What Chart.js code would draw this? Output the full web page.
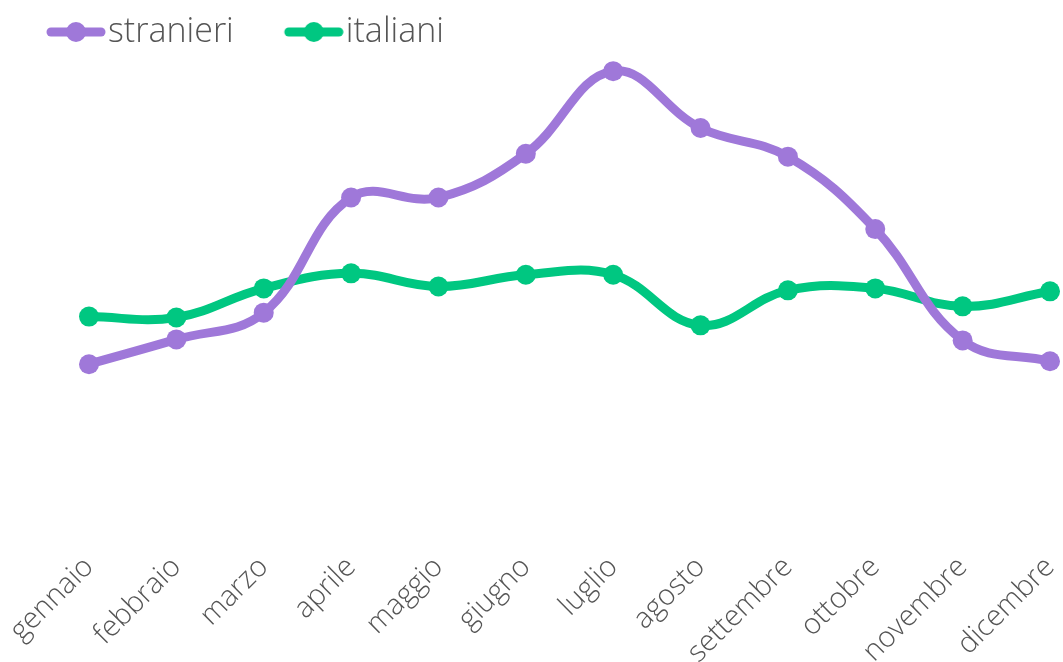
<!DOCTYPE html>
<html>
<head>
<meta charset="utf-8">
<script src="https://cdn.jsdelivr.net/npm/chart.js@4"></script>
<style>
  html, body { margin: 0; padding: 0; background: #fff; }
  #wrap { width: 1063px; height: 662px; }
</style>
</head>
<body>
<div id="wrap"><canvas id="myChart"></canvas></div>
<script>
const months = ['gennaio', 'febbraio', 'marzo', 'aprile', 'maggio', 'giugno', 'luglio', 'agosto', 'settembre', 'ottobre', 'novembre', 'dicembre'];
const stranieri = [37.2, 42.3, 47.8, 71.5, 71.5, 80.5, 97.5, 85.8, 79.9, 65.0, 42.1, 37.8];
const italiani = [47.0, 46.8, 52.8, 55.9, 53.2, 55.6, 55.6, 45.2, 52.4, 52.8, 49.1, 52.2];

const purple = '#9f78d9';
const green = '#00c781';

// legend marker: thick line with a dot, drawn in the right 60px of the image
function legendMark(color) {
    const c = document.createElement('canvas');
    c.width = 110;
    c.height = 24;
    const ctx = c.getContext('2d');
    ctx.strokeStyle = color;
    ctx.lineWidth = 9;
    ctx.lineCap = 'round';
    ctx.beginPath();
    ctx.moveTo(55, 12);
    ctx.lineTo(105, 12);
    ctx.stroke();
    ctx.fillStyle = color;
    ctx.beginPath();
    ctx.arc(80, 12, 10, 0, Math.PI * 2);
    ctx.fill();
    return c;
}

const legendShift = {
    id: 'legendShift',
    afterLayout(chart) {
        chart.legend.left = -4;
    }
};

new Chart(document.getElementById('myChart'), {
    type: 'line',
    data: {
        labels: months,
        datasets: [{
            label: 'stranieri',
            data: stranieri,
            borderColor: purple,
            backgroundColor: purple,
            borderWidth: 9,
            pointRadius: 10,
            pointBorderWidth: 0,
            tension: 0.4,
            fill: false
        }, {
            label: 'italiani',
            data: italiani,
            borderColor: green,
            backgroundColor: green,
            borderWidth: 9,
            pointRadius: 10,
            pointBorderWidth: 0,
            tension: 0.4,
            fill: false
        }]
    },
    options: {
        responsive: true,
        maintainAspectRatio: false,
        animation: false,
        plugins: {
            legend: {
                position: 'top',
                align: 'start',
                labels: {
                    usePointStyle: true,
                    pointStyleWidth: 80,
                    padding: 15,
                    color: '#555',
                    font: { family: 'Open Sans', size: 34, weight: '300' },
                    generateLabels(chart) {
                        return chart.data.datasets.map((ds, i) => ({
                            text: ds.label,
                            fontColor: '#555',
                            pointStyle: legendMark(ds.borderColor),
                            hidden: false,
                            datasetIndex: i
                        }));
                    }
                }
            },
            tooltip: { enabled: false }
        },
        scales: {
            x: {
                grid: { display: false },
                border: { display: false },
                ticks: {
                    color: '#555',
                    maxRotation: 45,
                    minRotation: 45,
                    padding: -3,
                    font: { family: 'Open Sans', size: 29, weight: '300' }
                },
                afterFit(scale) {
                    scale.paddingLeft = 89;
                    scale.paddingRight = 13;
                    scale.height = 117;
                }
            },
            y: {
                display: false,
                min: 0,
                max: 100
            }
        }
    },
    plugins: [legendShift]
});
</script>
</body>
</html>
